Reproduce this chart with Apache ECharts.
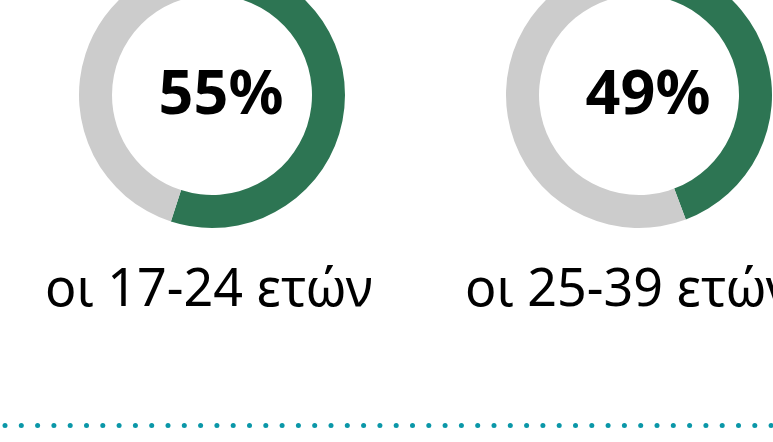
<!DOCTYPE html>
<html>
<head>
<meta charset="utf-8">
<script src="https://cdn.jsdelivr.net/npm/echarts@6/dist/echarts.min.js"></script>
<style>
html,body{margin:0;padding:0;background:#fff;}
#chart{width:773px;height:442px;}
</style>
</head>
<body>
<div id="chart"></div>
<script>
const groups = ['οι 17-24 ετών', 'οι 25-39 ετών'];
const shares = [55, 49];
const percentLabels = ['55%', '49%'];

const GREEN = '#2d7553';
const GREY = '#cccccc';
const centers = [[212, 95], [639, 95]];
const startAngles = [90, 107];
const labelLeft = [45, 465];

const chart = echarts.init(document.getElementById('chart'), null, {renderer: 'canvas'});

const series = shares.map((v, i) => ({
  type: 'pie',
  radius: [100, 133],
  center: centers[i],
  startAngle: startAngles[i],
  clockwise: true,
  silent: true,
  animation: false,
  label: {show: false},
  labelLine: {show: false},
  emphasis: {disabled: true},
  itemStyle: {borderWidth: 0},
  data: [
    {value: v, name: 'yes', itemStyle: {color: GREEN},
     label: {show: true, position: 'center', formatter: percentLabels[i], offset: [9, 2],
             fontFamily: 'Noto Sans', fontWeight: 'bold', fontSize: 61, color: '#000'}},
    {value: 100 - v, name: 'no', itemStyle: {color: GREY}}
  ]
}));

const graphics = groups.map((g, i) => ({
  type: 'text',
  left: labelLeft[i],
  top: 265,
  style: {text: g, fontFamily: 'Noto Sans', fontSize: 52, fill: '#000'}
}));
for (let x = 5; x < 790; x += 16.3) {
  graphics.push({
    type: 'circle',
    shape: {cx: x, cy: 425.5, r: 2.5},
    style: {fill: '#0a97a8'},
    silent: true
  });
}

chart.setOption({
  animation: false,
  backgroundColor: '#ffffff',
  series: series,
  graphic: graphics
});
</script>
</body>
</html>
